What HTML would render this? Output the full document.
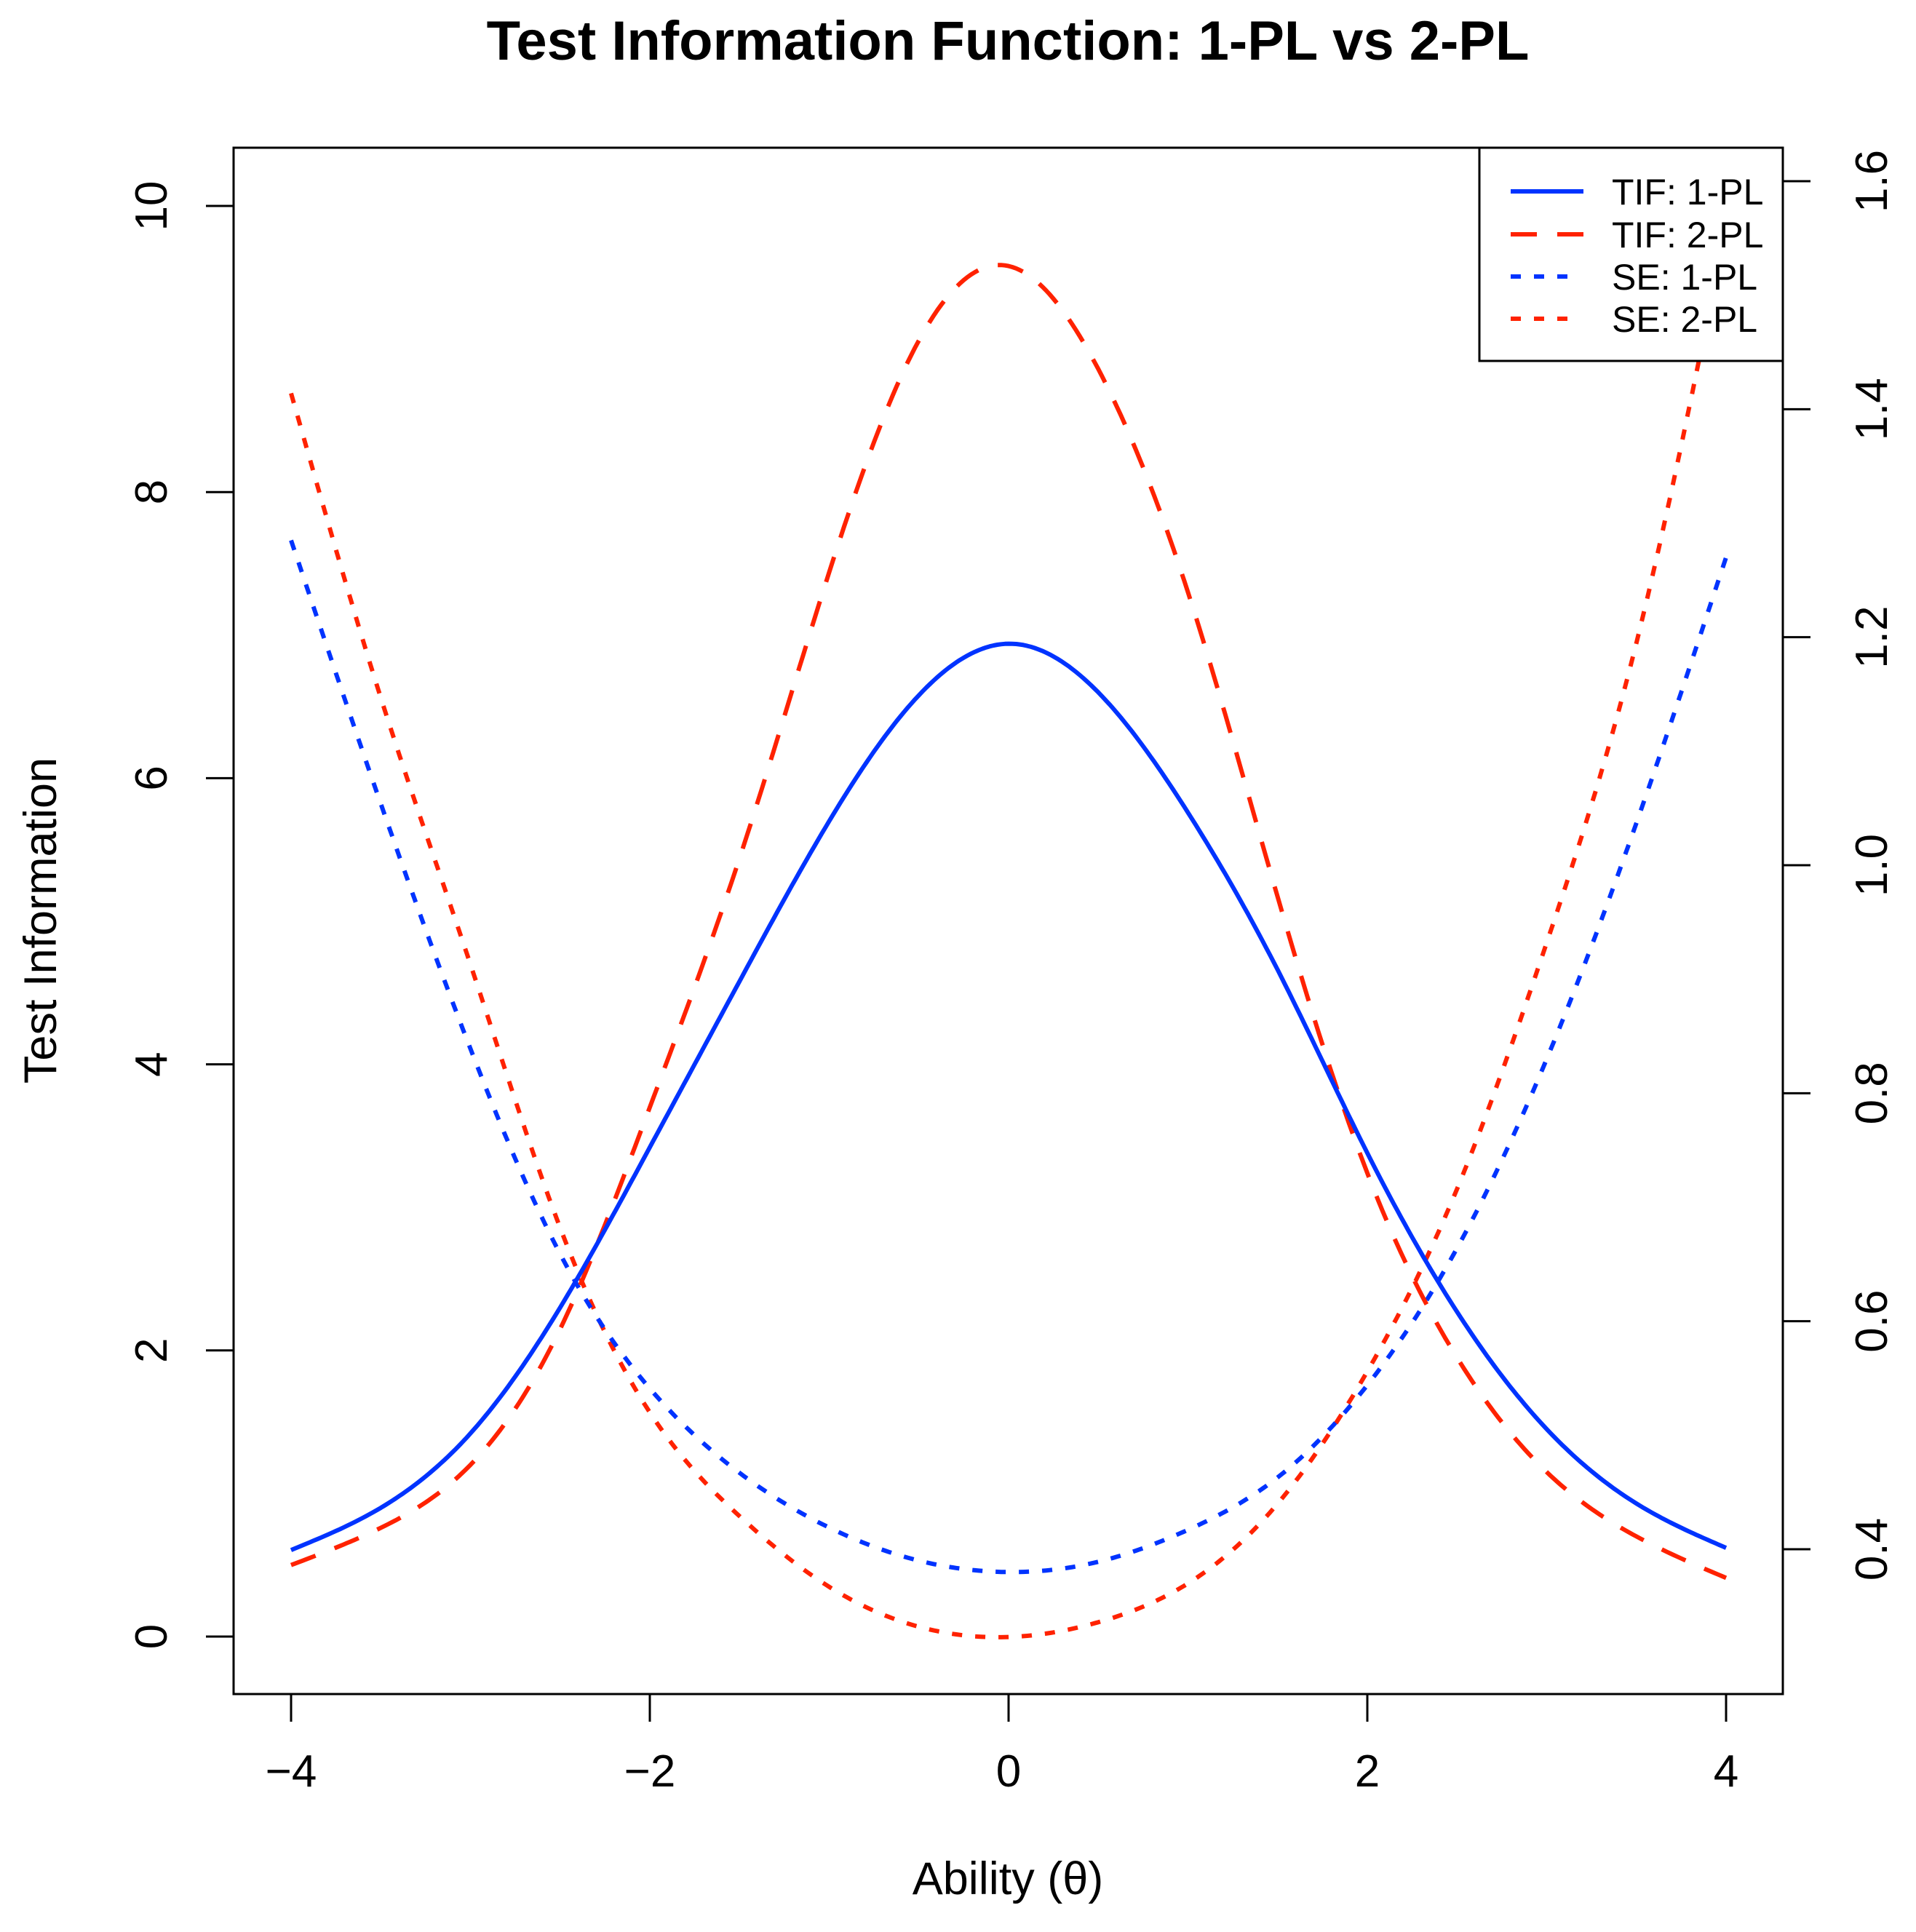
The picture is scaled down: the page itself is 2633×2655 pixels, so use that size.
<!DOCTYPE html>
<html><head><meta charset="utf-8"><style>
html,body{margin:0;padding:0;background:#fff;}
svg text{font-family:"Liberation Sans",sans-serif;fill:#000;}
</style></head><body>
<svg id="chart" width="2633" height="2650" viewBox="0 0 2633 2650" xmlns="http://www.w3.org/2000/svg">
<defs><clipPath id="plotclip"><rect x="321" y="203" width="2129" height="2125"/></clipPath></defs>
<text x="1385" y="82" text-anchor="middle" font-size="76" font-weight="bold">Test Information Function: 1-PL vs 2-PL</text>
<text transform="translate(77,1265) rotate(-90)" text-anchor="middle" font-size="63">Test Information</text>
<text x="1385" y="2603" text-anchor="middle" font-size="63">Ability (θ)</text>
<g id="series" clip-path="url(#plotclip)"></g>
<g id="axes"></g>
<rect x="321" y="203" width="2129" height="2125" fill="none" stroke="#000" stroke-width="3"/>
<g>
<rect x="2033" y="203" width="417" height="293" fill="#fff" stroke="#000" stroke-width="3"/>
<line x1="2076" y1="263" x2="2176" y2="263" stroke="#0033ff" stroke-width="6"/>
<line x1="2076" y1="322" x2="2176" y2="322" stroke="#ff2200" stroke-width="6" stroke-dasharray="36 28"/>
<line x1="2076" y1="380" x2="2160" y2="380" stroke="#0033ff" stroke-width="6" stroke-dasharray="14 18"/>
<line x1="2076" y1="438" x2="2160" y2="438" stroke="#ff2200" stroke-width="6" stroke-dasharray="14 18"/>
<text x="2215" y="281" font-size="50">TIF: 1-PL</text>
<text x="2215" y="340" font-size="50">TIF: 2-PL</text>
<text x="2215" y="398" font-size="50">SE: 1-PL</text>
<text x="2215" y="456" font-size="50">SE: 2-PL</text>
</g>
</svg>
<script>
const thetaValues = [-4,-3.5,-3,-2.5,-2,-1.5,-1,-0.5,0,0.5,1,1.5,2,2.5,3,3.5,4];
const tif1Values = [0.605,0.9,1.42,2.3,3.42,4.58,5.7,6.58,6.94,6.6,5.76,4.66,3.38,2.27,1.45,0.93,0.62];
const tif2Values = [0.5,0.76,1.2,2.15,3.7,5.44,7.44,9.06,9.58,8.86,7.3,5.17,3.24,1.95,1.15,0.7,0.41];
const se1Values = [1.285,1.054,0.839,0.659,0.541,0.467,0.419,0.39,0.38,0.389,0.417,0.463,0.544,0.664,0.83,1.037,1.27];
const se2Values = [1.414,1.147,0.913,0.682,0.52,0.429,0.367,0.332,0.323,0.336,0.37,0.44,0.556,0.716,0.932,1.195,1.56];
const xTicks = [-4,-2,0,2,4];
const xTickLabels = ["\u22124","\u22122","0","2","4"];
const yTicks = [0,2,4,6,8,10];
const y2Ticks = [0.4,0.6,0.8,1.0,1.2,1.4,1.6];
const y2TickLabels = ["0.4","0.6","0.8","1.0","1.2","1.4","1.6"];

const NS="http://www.w3.org/2000/svg";
function xs(v){return 400+(v+4)*(2372-400)/8;}
function ys(v){return 2249-v*(2249-283)/10;}
function ys2(v){return 2129-(v-0.4)*(2129-249)/1.2;}
function mk(tag,attrs,parent){const e=document.createElementNS(NS,tag);for(const k in attrs)e.setAttribute(k,attrs[k]);parent.appendChild(e);return e;}
function splinePath(xv,yv,scale){
  const n=xv.length,h=[],al=[0],l=[1],mu=[0],z=[0],c=new Array(n).fill(0),b=[],d=[];
  for(let i=0;i<n-1;i++)h.push(xv[i+1]-xv[i]);
  for(let i=1;i<n-1;i++)al.push(3/h[i]*(yv[i+1]-yv[i])-3/h[i-1]*(yv[i]-yv[i-1]));
  for(let i=1;i<n-1;i++){l[i]=2*(xv[i+1]-xv[i-1])-h[i-1]*mu[i-1];mu[i]=h[i]/l[i];z[i]=(al[i]-h[i-1]*z[i-1])/l[i];}
  for(let j=n-2;j>=0;j--){c[j]=(j>0?z[j]:0)-mu[j]*c[j+1];if(j===0)c[0]=0;}
  for(let j=0;j<n-1;j++){b[j]=(yv[j+1]-yv[j])/h[j]-h[j]*(c[j+1]+2*c[j])/3;d[j]=(c[j+1]-c[j])/(3*h[j]);}
  let s="";
  for(let j=0;j<n-1;j++){
    const steps=24;
    for(let k=(j===0?0:1);k<=steps;k++){
      const dx=h[j]*k/steps;
      const y=yv[j]+b[j]*dx+c[j]*dx*dx+d[j]*dx*dx*dx;
      s+=(s?" L":"M")+xs(xv[j]+dx).toFixed(1)+","+scale(y).toFixed(1);
    }
  }
  return s;
}
const sg=document.getElementById('series');
function drawSeries(vals,scale,color,dash,name){
  const p=mk('path',{d:splinePath(thetaValues,vals,scale),fill:'none',stroke:color,'stroke-width':6,'stroke-dasharray':dash,'stroke-linejoin':'round'},sg);
  
  
}
drawSeries(se2Values,ys2,'#ff2200','14 18','se-2pl-line');
drawSeries(se1Values,ys2,'#0033ff','14 18','se-1pl-line');
drawSeries(tif2Values,ys,'#ff2200','36 28','tif-2pl-line');
drawSeries(tif1Values,ys,'#0033ff','none','tif-1pl-line');

const ag=document.getElementById('axes');
xTicks.forEach((t,i)=>{
  const l=mk('line',{x1:xs(t),y1:2328,x2:xs(t),y2:2366,stroke:'#000','stroke-width':3},ag);
  
  
  const tx=mk('text',{x:xs(t),y:2455,'text-anchor':'middle','font-size':62},ag);
  tx.textContent=xTickLabels[i];
  
  
});
yTicks.forEach(t=>{
  const l=mk('line',{x1:283,y1:ys(t),x2:321,y2:ys(t),stroke:'#000','stroke-width':3},ag);
  
  
  const tx=mk('text',{transform:'translate(229,'+ys(t)+') rotate(-90)','text-anchor':'middle','font-size':62},ag);
  tx.textContent=String(t);
  
  
});
y2Ticks.forEach((t,i)=>{
  const l=mk('line',{x1:2450,y1:ys2(t),x2:2488,y2:ys2(t),stroke:'#000','stroke-width':3},ag);
  
  
  const tx=mk('text',{transform:'translate(2593,'+ys2(t)+') rotate(-90)','text-anchor':'middle','font-size':62},ag);
  tx.textContent=y2TickLabels[i];
  
  
});
</script>
</body></html>
